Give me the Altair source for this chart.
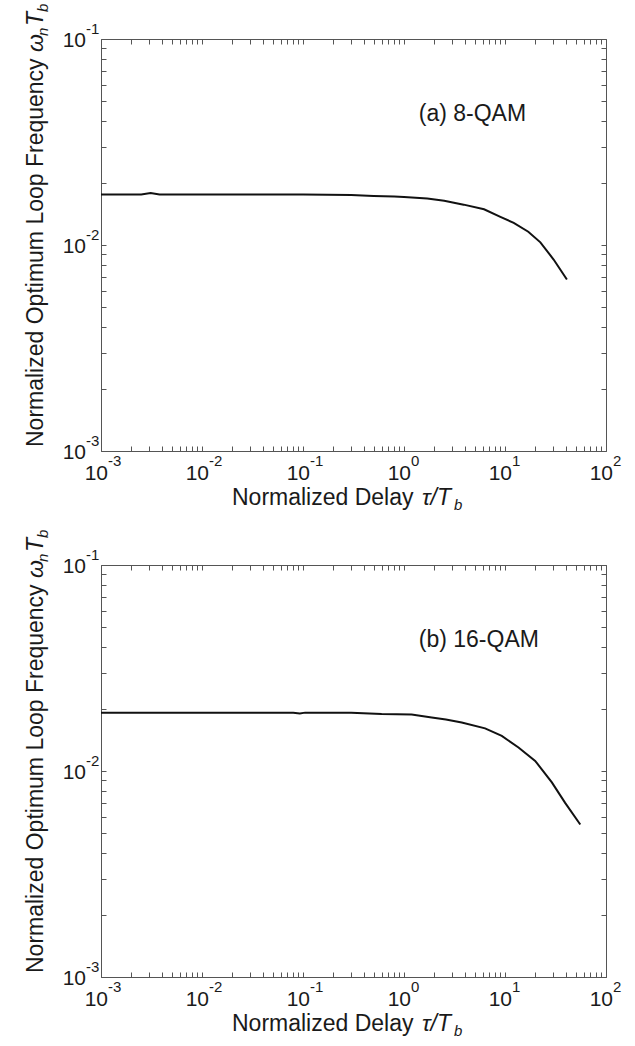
import altair as alt
import pandas as pd

FONT = "Liberation Sans"
W, H = 505, 412

# ---- data ----
a_delay = [0.001, 0.0025, 0.0031, 0.0038, 0.01, 0.1, 0.3, 0.5, 0.8, 1.0, 1.7, 2.5, 3.9, 6.2, 9.0, 12.2, 17.0, 22.4, 30.3, 41.0]
a_freq = [0.0176, 0.0176, 0.0179, 0.0176, 0.0176, 0.0176, 0.0175, 0.0173, 0.0172, 0.0171, 0.0168, 0.0164, 0.0157, 0.0149, 0.0137, 0.0128, 0.0116, 0.0103, 0.0085, 0.0068]

b_delay = [0.001, 0.01, 0.08, 0.093, 0.105, 0.3, 0.6, 1.19, 1.88, 2.6, 3.73, 6.35, 9.29, 13.6, 19.9, 29.1, 39.4, 55.6]
b_freq = [0.0192, 0.0192, 0.0192, 0.0190, 0.0192, 0.0192, 0.0189, 0.0188, 0.0182, 0.0178, 0.0172, 0.0161, 0.0148, 0.0130, 0.0112, 0.0088, 0.0070, 0.0055]

panel_labels = ["(a) 8-QAM", "(b) 16-QAM"]
label_x = [1.4, 1.4]
label_y = [0.04, 0.04]

x_major = [0.001, 0.01, 0.1, 1.0, 10.0, 100.0]
x_exp = ["-3", "-2", "-1", "0", "1", "2"]
y_major = [0.001, 0.01, 0.1]
y_exp = ["-3", "-2", "-1"]
x_ticks = [m * 10.0 ** k for k in range(-3, 2) for m in range(1, 10)] + [100.0]
y_ticks = [m * 10.0 ** k for k in range(-3, -1) for m in range(1, 10)] + [0.1]

x_title_parts = ["Normalized Delay", "\u03c4/T", "b"]
y_title_parts = ["Normalized Optimum Loop Frequency", "\u03c9", "n", "T", "b"]

TXT = "#1a1a1a"
TICK = "#555555"


def panel(delay, freq, label, lx, ly):
    df = pd.DataFrame({"delay": delay, "freq": freq})
    xs = alt.Scale(type="log", domain=[1e-3, 1e2], nice=False)
    ys = alt.Scale(type="log", domain=[1e-3, 1e-1], nice=False)
    common = dict(labels=False, title=None, grid=False, domain=False, ticks=True,
                  tickSize=5, offset=-5, tickColor=TICK, tickWidth=1)

    line = alt.Chart(df).mark_line(color="#111111", strokeWidth=2).encode(
        x=alt.X("delay:Q", scale=xs, axis=alt.Axis(orient="bottom", values=x_ticks, **common)),
        y=alt.Y("freq:Q", scale=ys, axis=alt.Axis(orient="left", values=y_ticks, **common)),
    )
    ghost = alt.Chart(df).mark_point(opacity=0).encode(
        x=alt.X("delay:Q", scale=xs, axis=alt.Axis(orient="top", values=x_ticks, **common)),
        y=alt.Y("freq:Q", scale=ys, axis=alt.Axis(orient="right", values=y_ticks, **common)),
    )

    xl = alt.Chart(pd.DataFrame({"v": x_major, "e": x_exp}))
    ten_x = xl.mark_text(text="10", font=FONT, fontSize=21, align="right", baseline="alphabetic",
                         dx=7, color=TXT).encode(
        x=alt.X("v:Q", scale=xs, axis=None), y=alt.value(H + 29))
    exp_x = xl.mark_text(font=FONT, fontSize=15, align="left", baseline="alphabetic",
                         dx=7, color=TXT).encode(
        x=alt.X("v:Q", scale=xs, axis=None), y=alt.value(H + 15), text="e:N")

    yl = alt.Chart(pd.DataFrame({"v": y_major, "e": y_exp}))
    ten_y = yl.mark_text(text="10", font=FONT, fontSize=21, align="right", baseline="alphabetic",
                         dy=7.5, color=TXT).encode(
        x=alt.value(-15), y=alt.Y("v:Q", scale=ys, axis=None))
    exp_y = yl.mark_text(font=FONT, fontSize=15, align="left", baseline="alphabetic",
                         dy=-5, color=TXT).encode(
        x=alt.value(-15), y=alt.Y("v:Q", scale=ys, axis=None), text="e:N")

    ann = alt.Chart(pd.DataFrame({"t": [label], "x": [lx], "y": [ly]})).mark_text(
        font=FONT, fontSize=23, align="left", baseline="alphabetic", color=TXT).encode(
        x=alt.X("x:Q", scale=xs, axis=None), y=alt.Y("y:Q", scale=ys, axis=None), text="t:N")

    one = pd.DataFrame({"k": [0]})
    # x title pieces
    xt_specs = [
        (x_title_parts[0], 23, "normal", 0, 0),
        (x_title_parts[1], 23, "italic", 190, 0),
        (x_title_parts[2], 15, "italic", 222, 5),
    ]
    xt = [alt.Chart(one).mark_text(text=t, font=FONT, fontSize=fs, fontStyle=st, align="left",
                                   baseline="alphabetic", dx=dx, dy=dy, color=TXT).encode(
        x=alt.value(131), y=alt.value(H + 54)) for (t, fs, st, dx, dy) in xt_specs]
    # y title pieces (rotated)
    yt_specs = [
        (y_title_parts[0], 23, "normal", 0, 0),
        (y_title_parts[1], 23, "italic", 395, 0),
        (y_title_parts[2], 15, "italic", 411, 5),
        (y_title_parts[3], 23, "italic", 421, 0),
        (y_title_parts[4], 15, "italic", 435, 5),
    ]
    yt = [alt.Chart(one).mark_text(text=t, font=FONT, fontSize=fs, fontStyle=st, align="left",
                                   baseline="alphabetic", angle=270, dx=dx, dy=dy, color=TXT).encode(
        x=alt.value(-58), y=alt.value(H - 4)) for (t, fs, st, dx, dy) in yt_specs]

    return alt.layer(line, ghost, ten_x, exp_x, ten_y, exp_y, ann, *xt, *yt).resolve_axis(
        x="independent", y="independent").properties(width=W, height=H)


pa = panel(a_delay, a_freq, panel_labels[0], label_x[0], label_y[0])
pb = panel(b_delay, b_freq, panel_labels[1], label_x[1], label_y[1])

chart = alt.vconcat(pa, pb, spacing=114, bounds="flush").properties(
    padding={"left": 24, "top": 3, "right": 0, "bottom": 0}
).configure_view(stroke="#555555", strokeWidth=1)

chart.save("out.html", embed_options={"renderer": "svg", "actions": False})
